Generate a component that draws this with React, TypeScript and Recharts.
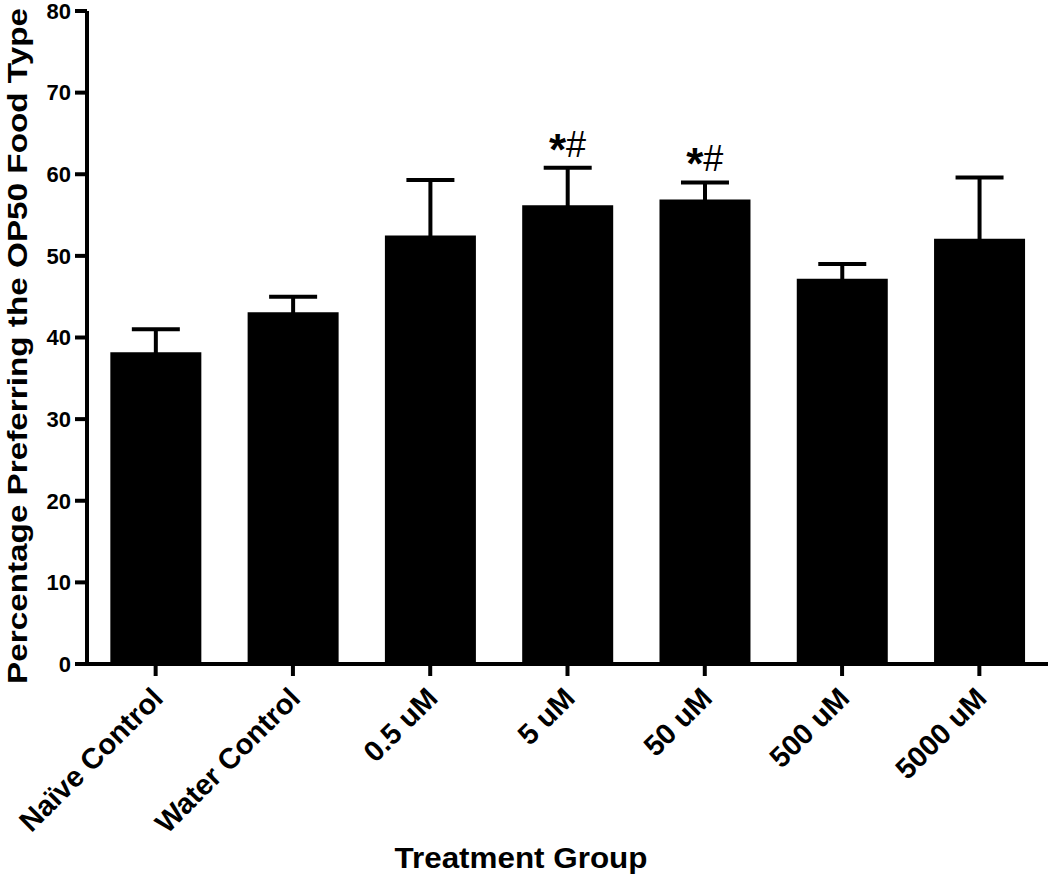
import {
  ComposedChart,
  Bar,
  Line,
  XAxis,
  YAxis,
  ErrorBar,
  Label,
} from "recharts";

const groups = ["Naïve Control", "Water Control", "0.5 uM", "5 uM", "50 uM", "500 uM", "5000 uM"];
const means = [38.2, 43.1, 52.5, 56.2, 56.9, 47.2, 52.1];
const sems = [2.8, 1.9, 6.8, 4.6, 2.1, 1.8, 7.5];
const marks = ["", "", "", "*#", "*#", "", ""];
const yTicks = [0, 10, 20, 30, 40, 50, 60, 70, 80];

const data = groups.map((g, i) => ({
  group: g,
  mean: means[i],
  sem: sems[i],
  upper: means[i] + sems[i],
}));

const FONT = "'Liberation Sans', Arial, Helvetica, sans-serif";

function XTick({ x, y, payload }: any) {
  return (
    <g transform={`translate(${x + 9},${y + 22})`}>
      <text
        textAnchor="end"
        transform="rotate(-45)"
        fontFamily={FONT}
        fontWeight="bold"
        fontSize={29}
        fill="#000"
      >
        {payload.value}
      </text>
    </g>
  );
}

function SigLabel({ x, y, index }: any) {
  const m = marks[index];
  if (!m) return null;
  return (
    <text x={x} y={y - 11} textAnchor="middle" fontFamily={FONT} fontSize={36} fill="#000">
      <tspan fontWeight="bold" fontSize={44} dy={8}>*</tspan>
      <tspan dy={-8}>#</tspan>
    </text>
  );
}

export default function App() {
  return (
    <div style={{ position: "absolute", left: 0, top: 0, background: "#fff" }}>
      <ComposedChart
        width={1050}
        height={878}
        data={data}
        margin={{ top: 11, right: 2, left: 0, bottom: 0 }}
        barCategoryGap="17%"
      >
        <XAxis
          dataKey="group"
          height={214}
          axisLine={{ stroke: "#000", strokeWidth: 4 }}
          tickLine={{ stroke: "#000", strokeWidth: 4 }}
          tickSize={12}
          interval={0}
          tick={<XTick />}
        >
          <Label
            content={() => (
              <text
                x={521}
                y={868}
                textAnchor="middle"
                fontFamily={FONT}
                fontWeight="bold"
                fontSize={29}
                textLength={253}
                lengthAdjust="spacingAndGlyphs"
                fill="#000"
              >
                Treatment Group
              </text>
            )}
          />
        </XAxis>
        <YAxis
          width={87}
          domain={[0, 80]}
          ticks={yTicks}
          interval={0}
          axisLine={{ stroke: "#000", strokeWidth: 4 }}
          tickLine={{ stroke: "#000", strokeWidth: 4 }}
          tickSize={12}
          tickMargin={4}
          tick={{ fill: "#000", fontSize: 22, fontWeight: "bold", fontFamily: FONT }}
        >
          <Label
            content={() => (
              <text
                x={0}
                y={0}
                transform="translate(27,346) rotate(-90)"
                textAnchor="middle"
                fontFamily={FONT}
                fontWeight="bold"
                fontSize={28}
                textLength={676}
                lengthAdjust="spacingAndGlyphs"
                fill="#000"
              >
                Percentage Preferring the OP50 Food Type
              </text>
            )}
          />
        </YAxis>
        <Bar dataKey="mean" fill="#000" isAnimationActive={false}>
          <ErrorBar dataKey="sem" direction="y" width={24} stroke="#000" strokeWidth={4} />
        </Bar>
        <Line
          dataKey="upper"
          stroke="none"
          dot={false}
          activeDot={false}
          isAnimationActive={false}
          label={<SigLabel />}
        />
      </ComposedChart>
    </div>
  );
}
